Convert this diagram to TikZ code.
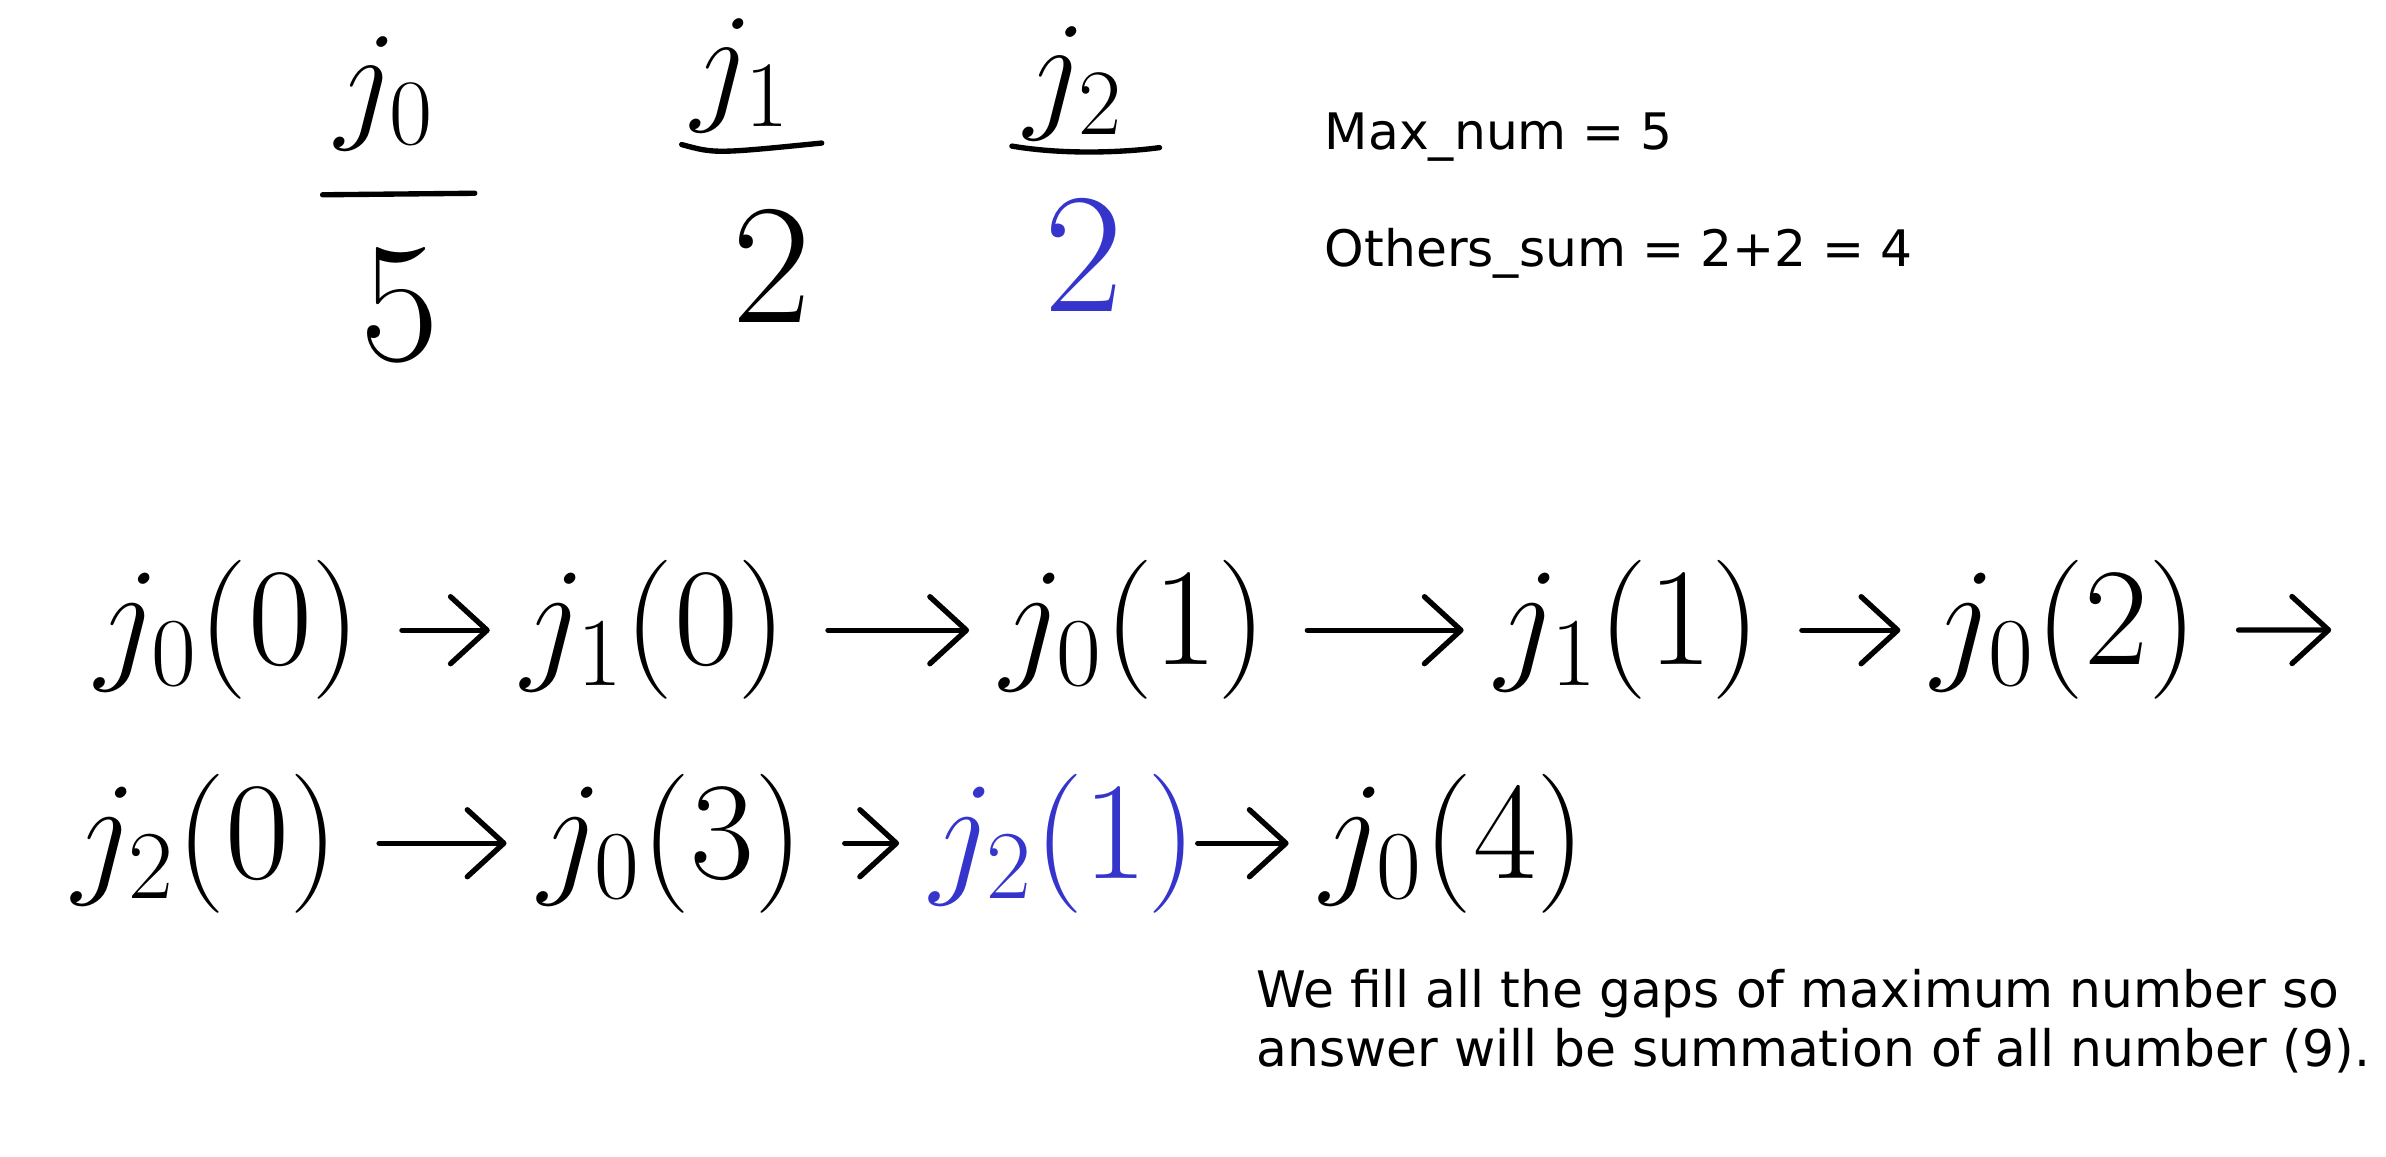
\RequirePackage{fix-cm}
\documentclass[tikz,border=0pt]{standalone}
\usepackage{amsmath}
\usepackage{fontspec}
\setmainfont{DejaVu Sans}
\usetikzlibrary{arrows.meta,positioning}
\definecolor{inkblue}{HTML}{3535CC}

\begin{document}
\begin{tikzpicture}[x=0.01cm,y=-0.01cm,>={Straight Barb[length=2.4mm,width=4.4mm,round]},
 tok/.style={anchor=base,inner sep=0pt,font=\fontsize{26}{30}\selectfont},
 head/.style={anchor=base,inner sep=0pt,font=\fontsize{25}{30}\selectfont},
 num/.style={anchor=base,inner sep=0pt,font=\fontsize{32}{36}\selectfont},
 txt/.style={anchor=base west,inner sep=0pt,align=left,font=\fontsize{9.4}{11.1}\selectfont},
 go/.style={->,line width=1pt,line cap=round,shorten <=2.6mm,shorten >=2mm},
 bar/.style={line width=1pt,line cap=round}]
\useasboundingbox (0,0) rectangle (1568,760);
% job sizes
\node[head] (h0) at (253,82) {$j_0$};
\node[head] (h1) at (487,70) {$j_1$};
\node[head] (h2) at (706,75) {$j_2$};
\draw[bar] (212,128) -- (312,127);
\draw[bar] (448,95) .. controls (470,101) .. (540,94);
\draw[bar] (665,96) .. controls (700,102) and (740,100) .. (762,97);
\node[num] (n0) at (263,237) {$5$};
\node[num] (n1) at (507,212) {$2$};
\node[num,text=inkblue] (n2) at (712,205) {$2$};
\node[txt] (mx) at (870,98) {Max\_num = 5};
\node[txt] (os) at (870,175) {Others\_sum = 2+2 = 4};
% schedule
\node[tok] (a1) at (150,437) {$j_0(0)$};
\node[tok] (a2) at (430,437) {$j_1(0)$};
\node[tok] (a3) at (745,437) {$j_0(1)$};
\node[tok] (a4) at (1070,437) {$j_1(1)$};
\node[tok] (a5) at (1357,437) {$j_0(2)$};
\coordinate (a6) at (1532,414);
\node[tok] (b1) at (135,577) {$j_2(0)$};
\node[tok] (b2) at (441,577) {$j_0(3)$};
\node[tok,text=inkblue] (b3) at (699,577) {$j_2(1)$};
\node[tok] (b4) at (955,577) {$j_0(4)$};
\draw[go] (a1) -- (a2); \draw[go] (a2) -- (a3);
\draw[go] (a3) -- (a4); \draw[go] (a4) -- (a5);
\draw[go,shorten >=0pt] (a5) -- (a6);
\draw[go] (b1) -- (b2); \draw[go] (b2) -- (b3);
\draw[go,shorten <=0pt] (b3) -- (b4);
\node[txt] (nt) at (825,701) {We fill all the gaps of maximum number so\\answer will be summation of all number (9).};
\end{tikzpicture}
\end{document}
